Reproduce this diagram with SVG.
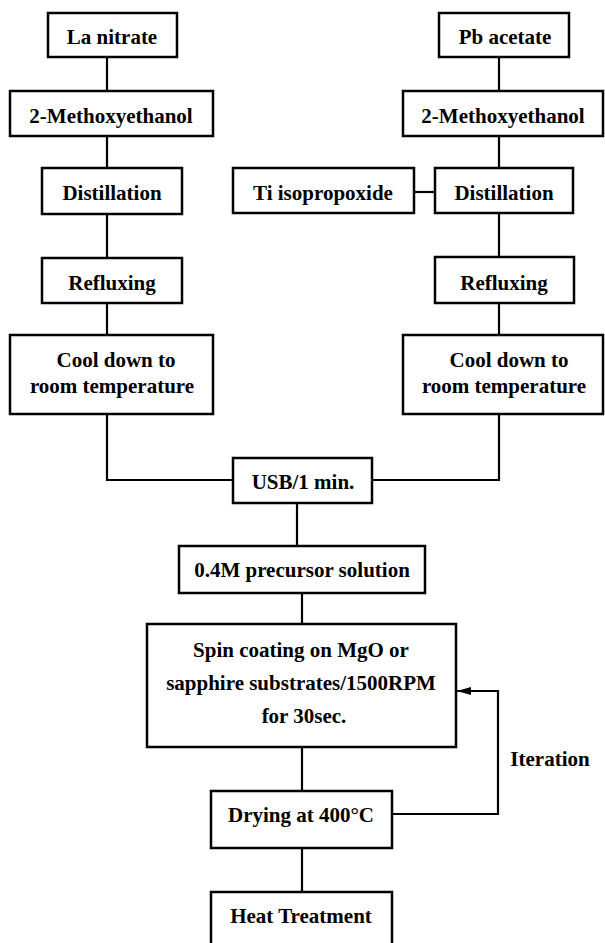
<svg xmlns="http://www.w3.org/2000/svg" width="605" height="943" viewBox="0 0 605 943">
<style>
.n rect{fill:#fff;stroke:#000;stroke-width:2.5}
text{font-family:"Liberation Serif","Times New Roman",serif;font-weight:bold;font-size:21px;text-anchor:middle;fill:#000}
.c path,.c line{stroke:#000;stroke-width:2.2;fill:none}
</style>
<defs>
<marker id="ah" markerWidth="14" markerHeight="8" refX="14" refY="4" orient="auto" markerUnits="userSpaceOnUse">
<path d="M0,0 L14,4 L0,8 Z" fill="#000"/>
</marker>
</defs>
<rect width="605" height="943" fill="#fff"/>
<g class="c" id="connectors">
<line x1="107" y1="57" x2="107" y2="91"/>
<line x1="107" y1="136" x2="107" y2="168"/>
<line x1="107" y1="214" x2="107" y2="258"/>
<line x1="107" y1="303" x2="107" y2="335"/>
<path d="M107,414 V480 H233"/>
<line x1="499" y1="57" x2="499" y2="91"/>
<line x1="499" y1="136" x2="499" y2="168"/>
<line x1="499" y1="213" x2="499" y2="257"/>
<line x1="499" y1="303" x2="499" y2="335"/>
<path d="M499,414 V480 H372"/>
<line x1="414" y1="192" x2="435" y2="192"/>
<line x1="297" y1="503" x2="297" y2="546"/>
<line x1="302" y1="593" x2="302" y2="624"/>
<line x1="302" y1="747" x2="302" y2="791"/>
<line x1="302" y1="848" x2="302" y2="892"/>
<path d="M392,814 H498 V691 H457" marker-end="url(#ah)"/>
<text x="550" y="766">Iteration</text>
</g>
<g class="n" id="la_nitrate"><rect x="48" y="13" width="129" height="44"/><text x="112" y="44">La nitrate</text></g>
<g class="n" id="methoxy_left"><rect x="10" y="91" width="203" height="45"/><text x="111" y="123">2-Methoxyethanol</text></g>
<g class="n" id="distill_left"><rect x="42" y="168" width="140" height="46"/><text x="112" y="200">Distillation</text></g>
<g class="n" id="reflux_left"><rect x="42" y="258" width="140" height="45"/><text x="112" y="290">Refluxing</text></g>
<g class="n" id="cool_left"><rect x="10" y="335" width="203" height="79"/><text x="116" y="367">Cool down to</text><text x="112" y="393">room temperature</text></g>
<g class="n" id="pb_acetate"><rect x="439" y="13" width="130" height="44"/><text x="505" y="44">Pb acetate</text></g>
<g class="n" id="methoxy_right"><rect x="403" y="91" width="200" height="45"/><text x="503" y="123">2-Methoxyethanol</text></g>
<g class="n" id="ti_iso"><rect x="233" y="168" width="181" height="45"/><text x="323" y="200">Ti isopropoxide</text></g>
<g class="n" id="distill_right"><rect x="435" y="168" width="138" height="45"/><text x="504" y="200">Distillation</text></g>
<g class="n" id="reflux_right"><rect x="435" y="257" width="139" height="46"/><text x="504" y="290">Refluxing</text></g>
<g class="n" id="cool_right"><rect x="403" y="335" width="200" height="79"/><text x="509" y="367">Cool down to</text><text x="504" y="393">room temperature</text></g>
<g class="n" id="usb"><rect x="233" y="458" width="139" height="45"/><text x="303" y="489">USB/1 min.</text></g>
<g class="n" id="precursor"><rect x="179" y="546" width="246" height="47"/><text x="302" y="577">0.4M precursor solution</text></g>
<g class="n" id="spin"><rect x="147" y="624" width="309" height="123"/><text x="301" y="657">Spin coating on MgO or</text><text x="301" y="690">sapphire substrates/1500RPM</text><text x="304" y="723">for 30sec.</text></g>
<g class="n" id="drying"><rect x="211" y="791" width="181" height="57"/><text x="301" y="822">Drying at 400°C</text></g>
<g class="n" id="heat"><rect x="211" y="892" width="181" height="60"/><text x="301" y="923">Heat Treatment</text></g>
</svg>
